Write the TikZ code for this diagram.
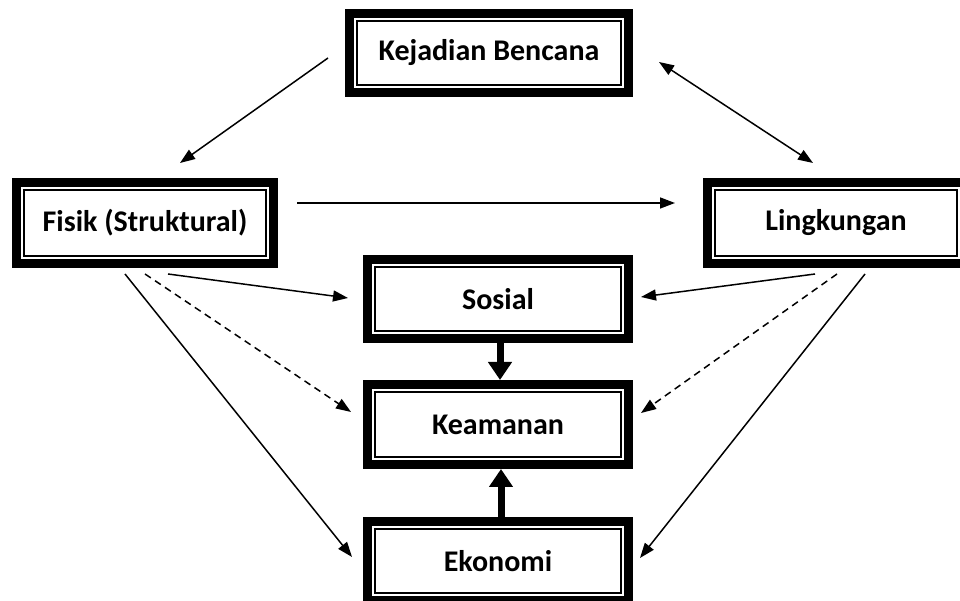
\documentclass[tikz,border=0pt]{standalone}
\usepackage{fontspec}
\setmainfont{Carlito}
\usetikzlibrary{arrows.meta,calc}

\tikzset{
  % thick-thin framed box
  framebox/.style={
    draw, line width=9pt, outer sep=4.5pt, inner sep=0pt,
    fill=white, rectangle,
    font=\fontsize{30}{34}\selectfont\bfseries,
    path picture={
      \draw[line width=2pt]
        ($(path picture bounding box.south west)+(7.5pt,7.5pt)$)
        rectangle
        ($(path picture bounding box.north east)+(-7.5pt,-7.5pt)$);
    }
  },
  thinarrow/.style={line width=1.5pt, -{Triangle[length=15pt,width=11pt]}},
  botharrow/.style={line width=1.5pt, {Triangle[length=15pt,width=11pt]}-{Triangle[length=15pt,width=11pt]}},
  dasharrow/.style={thinarrow, dash pattern=on 7pt off 5pt},
  bigarrow/.style={line width=7pt, -{Triangle[length=18pt,width=23pt]}}
}

\begin{document}
\begin{tikzpicture}[x=1pt,y=1pt]
\useasboundingbox (0,0) rectangle (960,601);

% boxes
\node[framebox, minimum width=279pt, minimum height=79pt] (kb)   at (489,548)   {Kejadian Bencana};
\node[framebox, minimum width=257pt, minimum height=81pt] (fis)  at (145,378)   {Fisik (Struktural)};
\node[framebox, minimum width=257pt, minimum height=81pt] (ling) at (836,378)   {Lingkungan};
\node[framebox, minimum width=261pt, minimum height=79pt] (sos)  at (498,302)   {Sosial};
\node[framebox, minimum width=261pt, minimum height=80pt] (keam) at (498,176.5) {Keamanan};
\node[framebox, minimum width=261pt, minimum height=79pt] (eko)  at (498,40)    {Ekonomi};

% top links
\draw[thinarrow] ($(kb.west)+(-17pt,-5pt)$) -- ($(fis.north)+(35pt,15pt)$);
\draw[botharrow] ($(kb.east)+(26pt,-9pt)$) -- ($(ling.north)+(-23pt,15pt)$);
\draw[thinarrow] ($(fis.east)+(19pt,20pt)$) -- ($(ling.west)+(-28pt,20pt)$);

% from Fisik (Struktural)
\draw[thinarrow] ($(fis.south)+(23pt,-6pt)$) -- ($(sos.west)+(-15pt,1pt)$);
\draw[dasharrow] ($(fis.south)+(0pt,-6pt)$) -- ($(keam.west)+(-12pt,12.5pt)$);
\draw[thinarrow] ($(fis.south)+(-20pt,-6pt)$) -- ($(eko.west)+(-11pt,4pt)$);

% from Lingkungan
\draw[thinarrow] ($(ling.south)+(-21pt,-6pt)$) -- ($(sos.east)+(8pt,2pt)$);
\draw[dasharrow] ($(ling.south)+(1pt,-6pt)$) -- ($(keam.east)+(8pt,11.5pt)$);
\draw[thinarrow] ($(ling.south)+(29pt,-6pt)$) -- ($(eko.east)+(7pt,3pt)$);

% central column
\draw[bigarrow] ($(sos.south)+(2pt,0pt)$) -- ($(keam.north)+(2pt,0pt)$);
\draw[bigarrow] ($(eko.north)+(3pt,0pt)$) -- ($(keam.south)+(3pt,0pt)$);
\end{tikzpicture}
\end{document}
